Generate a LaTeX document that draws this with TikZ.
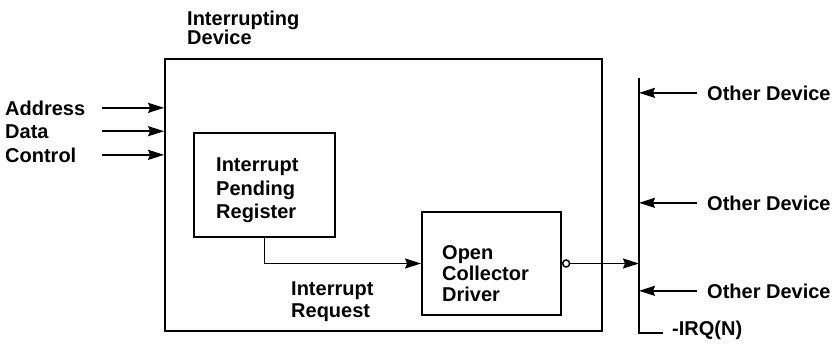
\documentclass[tikz,border=0pt]{standalone}
\usepackage{fontspec}
\setmainfont{Liberation Sans}
\usetikzlibrary{arrows.meta, positioning}

\begin{document}
\begin{tikzpicture}[x=1pt, y=-1pt,
  box/.style={rectangle, draw, line width=1.8pt, inner sep=0pt},
  txt/.style={font=\bfseries\fontsize{20}{#1}\selectfont, inner sep=0pt, align=left},
  txt/.default=22,
  arr/.style={-{Stealth[length=16pt, width=10pt, inset=2pt]}, line width=1.8pt},
  wire/.style={line width=1.8pt},
  bubble/.style={circle, draw, line width=1.5pt, fill=white, minimum size=7pt, inner sep=0pt}]
\useasboundingbox (0,0) rectangle (836,346);
% interrupting device
\node[box, minimum width=437, minimum height=272] (dev) at (383.5,195) {};
\node[txt=19, anchor=north west] (title) at (187,11) {Interrupting\\Device};
% inputs
\node[txt, anchor=base west] (addr) at (5,115) {Address};
\node[txt, anchor=base west] (data) at (5,138) {Data};
\node[txt, anchor=base west] (ctrl) at (5,162) {Control};
\coordinate (inx) at (102,0);
\draw[arr] (inx |- addr.east) -- (dev.west |- addr.east);
\draw[arr] (inx |- data.east) -- (dev.west |- data.east);
\draw[arr] (inx |- ctrl.east) -- (dev.west |- ctrl.east);
% pending register and driver
\node[box, minimum width=141, minimum height=104] (ipr) at (264.5,185) {};
\node[txt=23.5, anchor=north west] (iprtxt) at (216,158) {Interrupt\\Pending\\Register};
\node[box, minimum width=139, minimum height=103] (ocd) at (491.5,263.5) {};
\node[txt=21, anchor=north west] (ocdtxt) at (442,245) {Open\\Collector\\Driver};
\node[txt=22, anchor=north west] (req) at (291,282) {Interrupt\\Request};
\draw[arr] (ipr.south) |- (ocd.west);
\node[bubble, anchor=west] (bub) at (ocd.east) {};
% irq line
\coordinate (bustop) at (639,78);
\coordinate (busbot) at (639,333);
\coordinate (busend) at (663,333);
\draw[wire] (bustop) -- (busbot) -- (busend);
\draw[arr] (bub) -- (bub -| bustop);
\node[txt, anchor=base west] (irqn) at (672,335) {-IRQ(N)};
% other devices
\node[txt, anchor=base west] (od1) at (707,100) {Other Device};
\node[txt, anchor=base west] (od2) at (707,210) {Other Device};
\node[txt, anchor=base west] (od3) at (707,298) {Other Device};
\draw[arr] ([xshift=-10pt]od1.west) -- (od1.west -| bustop);
\draw[arr] ([xshift=-10pt]od2.west) -- (od2.west -| bustop);
\draw[arr] ([xshift=-10pt]od3.west) -- (od3.west -| bustop);
\end{tikzpicture}
\end{document}
